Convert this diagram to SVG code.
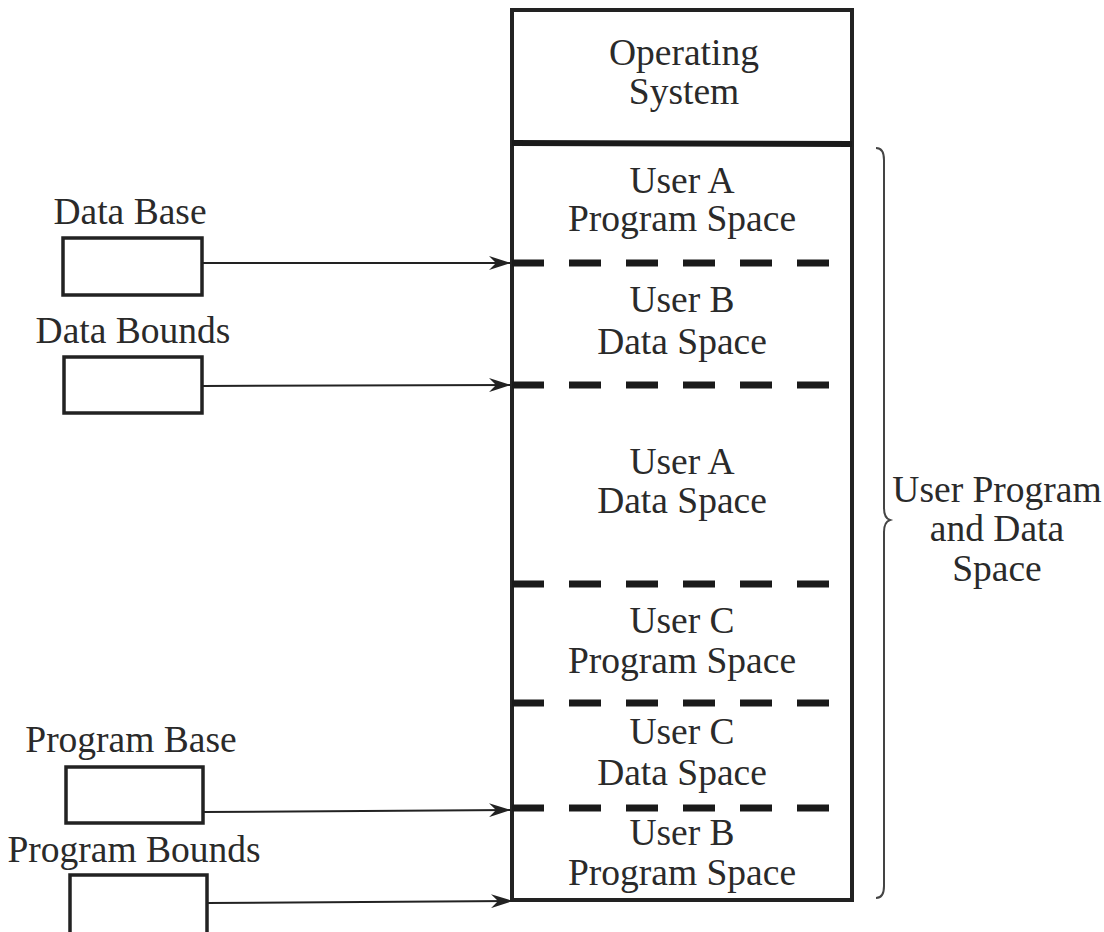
<svg xmlns="http://www.w3.org/2000/svg" width="1104" height="932" viewBox="0 0 1104 932">
<style>
text{font-family:"Liberation Serif","Times New Roman",serif;font-size:37.5px;fill:#2a2a2a;text-anchor:middle}
.box{fill:#fff;stroke:#222;stroke-width:3.5}
.dash{stroke:#1a1a1a;stroke-width:7;stroke-dasharray:32 25;fill:none}
.conn{stroke:#222;stroke-width:2;fill:none;marker-end:url(#arr)}
</style>
<defs>
<marker id="arr" viewBox="0 0 22 14" refX="21" refY="7" markerWidth="22" markerHeight="14" markerUnits="userSpaceOnUse" orient="auto">
<path d="M0,0 L22,7 L0,14 L7,7 Z" fill="#222"/>
</marker>
</defs>
<rect width="1104" height="932" fill="#fff"/>
<g id="memory">
<rect x="512" y="10" width="340" height="890" fill="#fff" stroke="#222" stroke-width="4"/>
<line x1="512" y1="143" x2="852" y2="144" stroke="#1a1a1a" stroke-width="6"/>
<line class="dash" x1="512" y1="263" x2="830" y2="263"/>
<line class="dash" x1="512" y1="385" x2="830" y2="385"/>
<line class="dash" x1="512" y1="584" x2="830" y2="584"/>
<line class="dash" x1="512" y1="703" x2="830" y2="703"/>
<line class="dash" x1="512" y1="808" x2="830" y2="808"/>
</g>
<g id="os"><text x="684" y="65">Operating</text><text x="684" y="104">System</text></g>
<g id="userA-prog"><text x="682" y="193">User A</text><text x="682" y="231">Program Space</text></g>
<g id="userB-data"><text x="682" y="312">User B</text><text x="682" y="354">Data Space</text></g>
<g id="userA-data"><text x="682" y="474">User A</text><text x="682" y="513">Data Space</text></g>
<g id="userC-prog"><text x="682" y="633">User C</text><text x="682" y="673">Program Space</text></g>
<g id="userC-data"><text x="682" y="744">User C</text><text x="682" y="785">Data Space</text></g>
<g id="userB-prog"><text x="682" y="845">User B</text><text x="682" y="885">Program Space</text></g>
<g id="data-base"><text x="130" y="224">Data Base</text><rect class="box" x="63" y="238" width="139" height="57"/></g>
<g id="data-bounds"><text x="133" y="343">Data Bounds</text><rect class="box" x="64" y="357" width="138" height="56"/></g>
<g id="program-base"><text x="131" y="752">Program Base</text><rect class="box" x="66" y="767" width="137" height="56"/></g>
<g id="program-bounds"><text x="134" y="862">Program Bounds</text><rect class="box" x="70" y="875" width="137" height="60"/></g>
<g id="brace">
<path d="M876,148 Q884,148 884,160 L884,508 Q884,518 890,520 Q884,522 884,532 L884,886 Q884,898 876,898" fill="none" stroke="#444" stroke-width="2"/>
<text x="997" y="502">User Program</text><text x="997" y="541">and Data</text><text x="997" y="581">Space</text>
</g>
<g id="connectors">
<line class="conn" x1="202" y1="263" x2="510" y2="263"/>
<line class="conn" x1="202" y1="386" x2="510" y2="385"/>
<line class="conn" x1="203" y1="812" x2="510" y2="810"/>
<line class="conn" x1="207" y1="903" x2="512" y2="901"/>
</g>
</svg>
